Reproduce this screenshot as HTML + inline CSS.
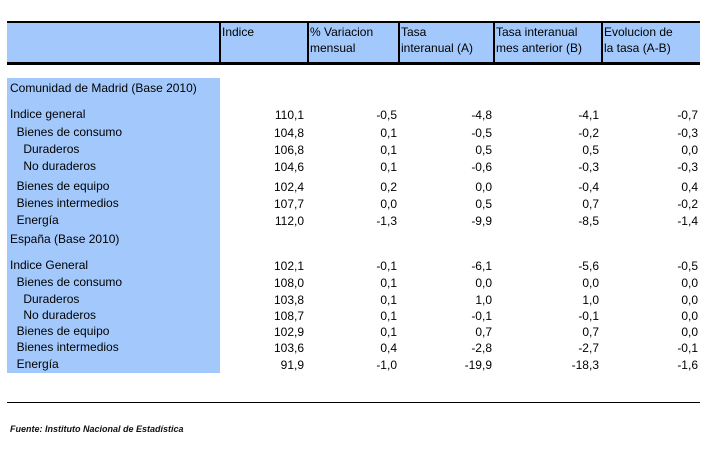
<!DOCTYPE html>
<html><head><meta charset="utf-8"><style>
body{margin:0;width:717px;height:463px;background:#fff;position:relative;overflow:hidden;font-family:"Liberation Sans",Arial,sans-serif;font-size:12px;color:#000}
.a{position:absolute;white-space:nowrap;line-height:14px}
.r{text-align:right}
</style></head><body>
<div class="a" style="left:7px;top:21px;width:693px;height:39px;background:#a3c9fc;border-top:2px solid #000;border-bottom:3px solid #000"></div>
<div class="a" style="left:7px;top:78px;width:213px;height:295px;background:#a3c9fc"></div>
<div class="a" style="left:7px;top:402px;width:693px;height:1px;background:#000"></div>
<div class="a" style="left:10px;top:422px;font-size:9px;font-style:italic;font-weight:bold;color:#111">Fuente: Instituto Nacional de Estadística</div>
<script>
const headers=["Indice","% Variacion<br>mensual","Tasa<br>interanual (A)","Tasa interanual<br>mes anterior (B)","Evolucion de<br>la tasa (A-B)"];
const labels=["Comunidad de Madrid (Base 2010)","Indice general","  Bienes de consumo","    Duraderos","    No duraderos","  Bienes de equipo","  Bienes intermedios","  Energía","España (Base 2010)","Indice General","  Bienes de consumo","    Duraderos","    No duraderos","  Bienes de equipo","  Bienes intermedios","  Energía"];
const indice=["","110,1","104,8","106,8","104,6","102,4","107,7","112,0","","102,1","108,0","103,8","108,7","102,9","103,6","91,9"];
const variacion=["","-0,5","0,1","0,1","0,1","0,2","0,0","-1,3","","-0,1","0,1","0,1","0,1","0,1","0,4","-1,0"];
const tasaA=["","-4,8","-0,5","0,5","-0,6","0,0","0,5","-9,9","","-6,1","0,0","1,0","-0,1","0,7","-2,8","-19,9"];
const tasaB=["","-4,1","-0,2","0,5","-0,3","-0,4","0,7","-8,5","","-5,6","0,0","1,0","-0,1","0,7","-2,7","-18,3"];
const evol=["","-0,7","-0,3","0,0","-0,3","0,4","-0,2","-1,4","","-0,5","0,0","0,0","0,0","0,0","-0,1","-1,6"];
const rowY=[81,107,125,142,159,179,196,213,232,258,275,292,308,324,340,357];
const colDiv=[219,307,398,493,601];
const colRight=[304,397,492,599,698];
const cols=[indice,variacion,tasaA,tasaB,evol];
const b=document.body;
colDiv.forEach((x,i)=>{
 const d=document.createElement('div');d.className='a';
 
 
 d.style.cssText=`left:${x}px;top:22px;width:2px;height:40px;background:#000`;b.appendChild(d);
 const h=document.createElement('div');h.className='a';
 
 
 h.style.cssText=`left:${x+3}px;top:24px;line-height:16px`;h.innerHTML=headers[i];b.appendChild(h);
});
labels.forEach((t,i)=>{
 const d=document.createElement('div');d.className='a';
 
 
 d.style.cssText=`left:10px;top:${rowY[i]}px;white-space:pre`;d.textContent=t;b.appendChild(d);
 cols.forEach((c,j)=>{
  if(!c[i])return;
  const v=document.createElement('div');v.className='a r';
  
  
  v.style.cssText=`left:${colRight[j]-80}px;width:80px;top:${rowY[i]+1}px`;v.textContent=c[i];b.appendChild(v);
 });
});
</script>
</body></html>
